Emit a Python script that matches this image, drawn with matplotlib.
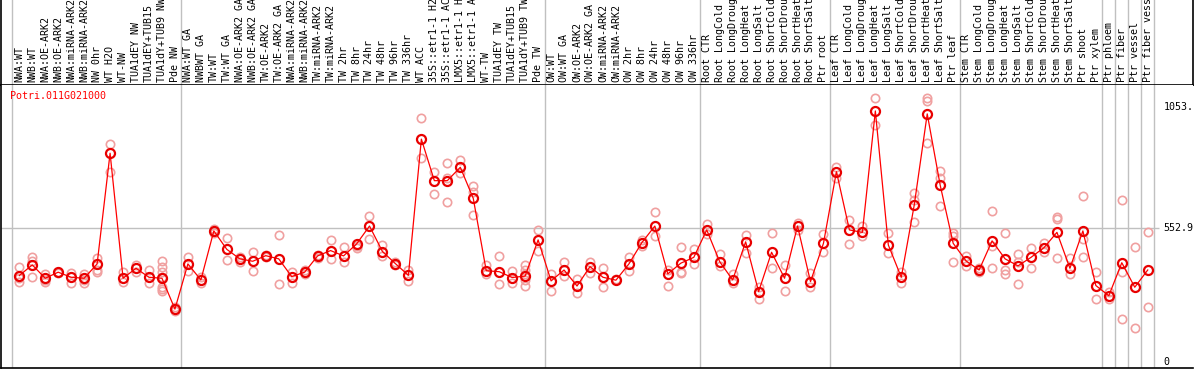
import matplotlib
matplotlib.use("Agg")
import matplotlib.pyplot as plt

# sample labels (already truncated to 14 chars like the source page)
labels = [
    "NWA:WT", "NWB:WT", "NWA:OE-ARK2", "NWB:OE-ARK2", "NWA:miRNA-ARK2", "NWB:miRNA-ARK2",
    "NW 0hr", "WT H2O", "WT-NW", "TUA1dEY NW", "TUA1dEY+TUB15", "TUA1dY+TUB9 NW", "Pde NW",
    "NWA:WT GA", "NWBWT GA", "TW:WT", "TW:WT GA", "NWA:OE-ARK2 GA", "NWB:OE-ARK2 GA",
    "TW:OE-ARK2", "TW:OE-ARK2 GA", "NWA:miRNA-ARK2", "NWB:miRNA-ARK2", "TW:miRNA-ARK2",
    "TW:miRNA-ARK2", "TW 2hr", "TW 8hr", "TW 24hr", "TW 48hr", "TW 96hr", "TW 336hr", "WT ACC",
    "35S::etr1-1 H2", "35S::etr1-1 AC", "LMX5::etr1-1 H", "LMX5::etr1-1 A", "WT-TW",
    "TUA1dEY TW", "TUA1dEY+TUB15", "TUA1dY+TUB9 TW", "Pde TW",
    "OW:WT", "OW:WT GA", "OW:OE-ARK2", "OW:OE-ARK2 GA", "OW:miRNA-ARK2", "OW:miRNA-ARK2",
    "OW 2hr", "OW 8hr", "OW 24hr", "OW 48hr", "OW 96hr", "OW 336hr",
    "Root CTR", "Root LongCold", "Root LongDroug", "Root LongHeat", "Root LongSalt",
    "Root ShortCold", "Root ShortDrou", "Root ShortHeat", "Root ShortSalt", "Ptr root",
    "Leaf CTR", "Leaf LongCold", "Leaf LongDroug", "Leaf LongHeat", "Leaf LongSalt",
    "Leaf ShortCold", "Leaf ShortDrou", "Leaf ShortHeat", "Leaf ShortSalt", "Ptr leaf",
    "Stem CTR", "Stem LongCold", "Stem LongDroug", "Stem LongHeat", "Stem LongSalt",
    "Stem ShortCold", "Stem ShortDrou", "Stem ShortHeat", "Stem ShortSalt", "Ptr shoot",
    "Ptr xylem", "Ptr phloem", "Ptr fiber", "Ptr vessel", "Ptr fiber vess",
]
group_sizes = [13, 28, 12, 10, 10, 11, 1, 1, 1, 1]

mean_vals = [358, 402, 347, 372, 351, 347, 406, 862, 347, 388, 351, 347, 220,
             406, 340, 542, 466, 427, 417, 440, 427, 354, 372, 439, 461, 439, 488,
             562, 457, 407, 359, 920, 749, 749, 804, 676, 378, 374, 350, 356, 505,
             336, 381, 315, 395, 351, 339, 406, 494, 562, 365, 409, 433,
             546, 415, 340, 497, 292, 454, 347, 562, 333, 491,
             786, 546, 536, 1036, 484, 351, 649, 1024, 730, 491,
             418, 381, 501, 427, 398, 433, 473, 536, 388, 542, 317,
             275, 411, 310, 381]

rep_vals = [
    [394, 347, 333], [436, 419, 351], [365, 340, 333], [374, 367], [370, 329],
    [365, 329, 340], [429, 372, 380], [900, 786], [372, 333], [402, 374],
    [381, 326], [419, 395, 374, 354, 313, 303, 296], [214, 230],
    [433, 377], [354, 326], [549, 535], [512, 422], [436, 415], [454, 378],
    [443, 436], [525, 323], [374, 326], [381, 364], [429, 443], [505, 425],
    [475, 412], [478, 470], [604, 508], [483, 439], [415, 400], [381, 337],
    [1006, 841], [786, 694], [821, 759, 660], [834, 779], [727, 704, 606],
    [402, 364], [439, 322], [377, 329], [402, 381, 365, 340, 315], [546, 461],
    [365, 295], [415, 356], [342, 285], [415, 370], [388, 313], [342],
    [436, 377], [505, 478], [619, 519], [381, 317], [475, 374, 367], [468, 406],
    [571, 530], [447, 398], [364, 329], [525, 450], [313, 260], [532, 388],
    [402, 295], [576, 546], [367, 313], [530, 457],
    [804, 759], [587, 488], [562, 522], [1088, 979], [532, 451], [374, 329],
    [697, 671, 578], [1088, 1079, 903], [789, 759, 645], [532, 522, 413],
    [439, 399], [388, 374], [624, 481, 391], [532, 383, 365], [447, 415, 322],
    [471, 388], [491, 454], [601, 590, 429], [429, 365], [686, 508, 436],
    [374, 260], [289, 260], [670, 374, 178], [475, 141], [536, 227],
]

gene = "Potri.011G021000"
ytick_vals = [1053, 552.9, 0]
ytick_text = ["1053.", "552.9", "0"]

W, H = 1194, 370
fig = plt.figure(figsize=(W / 100, H / 100), dpi=100)
mono = "DejaVu Sans Mono"
fs = 7.2
grey = "#c0c0c0"

xlo, xhi = -1.41, 90.49
x = list(range(len(mean_vals)))

# separators between groups
seps = [-0.6]
c = -0.5
for g in group_sizes:
    c += g
    seps.append(c)

# label strip
ax_top = fig.add_axes([1 / W, (H - 85) / H, 1192 / W, 85 / H])
ax_top.set_xlim(xlo, xhi)
ax_top.set_ylim(0, 1)
ax_top.set_xticks([])
ax_top.set_yticks([])
ax_top.spines["top"].set_visible(False)
for s in ["left", "right", "bottom"]:
    ax_top.spines[s].set_color("black")
    ax_top.spines[s].set_linewidth(1.2)
for s in seps:
    ax_top.axvline(s, color=grey, lw=1)
for i, lab in enumerate(labels):
    ax_top.text(i, 3 / 85, lab, rotation=90, ha="center", va="bottom",
                family=mono, fontsize=fs, color="black")

# plot area
ax = fig.add_axes([1 / W, 2 / H, 1192 / W, 283 / H])
ax.set_xlim(xlo, xhi)
ax.set_ylim(-22.7, 1143)
ax.set_xticks([])
ax.set_yticks([])
ax.spines["top"].set_visible(False)
ax.spines["right"].set_visible(False)
ax.spines["left"].set_linewidth(1.2)
ax.spines["bottom"].set_linewidth(1.2)
for s in seps:
    ax.axvline(s, color=grey, lw=1, zorder=0)
ax.hlines(552.9, xlo, 87.9, color=grey, lw=1, zorder=0)

rx = [i for i, r in enumerate(rep_vals) for _ in r]
ry = [v for r in rep_vals for v in r]
ax.plot(rx, ry, ls="none", marker="o", ms=6, mfc="none", mec="#f0a0a0",
        mew=1.2, zorder=2)
ax.plot(x, mean_vals, color="#ff0000", lw=0.9, marker="o", ms=6.5, mfc="none",
        mec="#e80000", mew=1.6, zorder=3)

for v, t in zip(ytick_vals, ytick_text):
    ax.text(88.2, v, t, ha="left", va="center", family=mono, fontsize=fs,
            color="black")

ax.text(9 / 1192, 1 - 6 / 283, gene, transform=ax.transAxes, ha="left", va="top",
        family=mono, fontsize=fs, color="#ff0000")

fig.savefig("out.png", dpi=100)
